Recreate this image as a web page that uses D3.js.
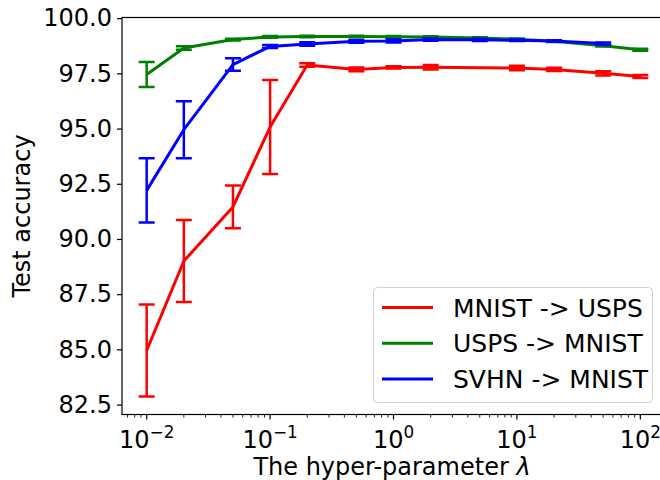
<!DOCTYPE html>
<html><head><meta charset="utf-8">
<script src="https://cdn.jsdelivr.net/npm/d3@7"></script>
<style>body{margin:0;background:#fff}svg{display:block;font-family:"DejaVu Sans",sans-serif}</style>
</head><body>
<svg id="c" width="660" height="480"></svg>
<script>
const seriesNames = ["MNIST -> USPS", "USPS -> MNIST", "SVHN -> MNIST"];
const seriesColors = ["#ff0000", "#008000", "#0000ff"];
const xRed = [0.01, 0.02, 0.05, 0.1, 0.2, 0.5, 1, 2, 10, 20, 50, 100];
const redValues = [84.95, 89.0, 91.45, 95.07, 97.88, 97.68, 97.77, 97.78, 97.74, 97.68, 97.5, 97.36];
const redErr = [2.08, 1.86, 0.97, 2.13, 0.08, 0.08, 0.05, 0.1, 0.1, 0.07, 0.1, 0.07];
const xGreen = [0.01, 0.02, 0.05, 0.1, 0.2, 0.5, 1, 2, 5, 10, 20, 50, 100];
const greenValues = [97.45, 98.65, 99.03, 99.15, 99.17, 99.17, 99.16, 99.15, 99.1, 99.05, 98.95, 98.75, 98.57];
const greenErr = [0.57, 0.08, 0.04, 0.04, 0.03, 0.03, 0.03, 0.03, 0.03, 0.03, 0.03, 0.03, 0.05];
const xBlue = [0.01, 0.02, 0.05, 0.1, 0.2, 0.5, 1, 2, 5, 10, 20, 50];
const blueValues = [92.2, 94.95, 97.9, 98.72, 98.83, 98.95, 98.97, 99.03, 99.02, 99.0, 98.97, 98.85];
const blueErr = [1.46, 1.29, 0.28, 0.07, 0.08, 0.06, 0.07, 0.05, 0.05, 0.03, 0.03, 0.05];
const yTicks = [82.5, 85.0, 87.5, 90.0, 92.5, 95.0, 97.5, 100.0];
const xTickExps = [-2, -1, 0, 1, 2];

const svg = d3.select("#c");
const L = 122, R = 665, T = 17.5, B = 414.5;
const x = d3.scaleLog().domain([Math.pow(10, -2.2), Math.pow(10, 2.2)]).range([L, R]);
const y = d3.scaleLinear().domain([82.05, 100.03]).range([B, T]);
const FS = 24;
const LFS = 25;

const series = [
  {xs: xRed, v: redValues, e: redErr},
  {xs: xGreen, v: greenValues, e: greenErr},
  {xs: xBlue, v: blueValues, e: blueErr}
];

const plot = svg.append("g");
svg.append("clipPath").attr("id", "clp").append("rect")
  .attr("x", L).attr("y", T).attr("width", R - L).attr("height", B - T);
plot.attr("clip-path", "url(#clp)");

const line = d3.line().x(d => x(d[0])).y(d => y(d[1]));
const cap = 8;
series.forEach((s, i) => {
  const col = seriesColors[i];
  const pts = s.xs.map((xv, j) => [xv, s.v[j], s.e[j]]);
  plot.append("path").datum(pts).attr("d", line).attr("fill", "none")
    .attr("stroke", col).attr("stroke-width", 3).attr("stroke-linejoin", "round");
  const g = plot.append("g").attr("stroke", col).attr("stroke-width", 2.5);
  pts.forEach(p => {
    const cx = x(p[0]), y1 = y(p[1] + p[2]), y2 = y(p[1] - p[2]);
    g.append("line").attr("x1", cx).attr("x2", cx).attr("y1", y1).attr("y2", y2);
    g.append("line").attr("x1", cx - cap).attr("x2", cx + cap).attr("y1", y1).attr("y2", y1);
    g.append("line").attr("x1", cx - cap).attr("x2", cx + cap).attr("y1", y2).attr("y2", y2);
  });
});

// axes spines
svg.append("rect").attr("x", L).attr("y", T).attr("width", R - L).attr("height", B - T)
  .attr("fill", "none").attr("stroke", "#000").attr("stroke-width", 1.2);

// y axis
const yAxis = d3.axisLeft(y).tickValues(yTicks).tickFormat(d3.format(".1f")).tickSize(5).tickPadding(5);
const yg = svg.append("g").attr("transform", `translate(${L},0)`).call(yAxis);
yg.select(".domain").remove();
yg.selectAll("text").attr("font-size", FS).attr("font-family", "DejaVu Sans").attr("fill", "#000");
yg.selectAll("line").attr("stroke", "#000").attr("stroke-width", 1.2);

// x axis minor ticks
const minor = [];
for (let e = -3; e <= 2; e++) for (let k = 2; k <= 9; k++) {
  const v = k * Math.pow(10, e);
  if (v >= x.domain()[0] && v <= x.domain()[1]) minor.push(v);
}
const xg = svg.append("g").attr("transform", `translate(0,${B})`);
xg.selectAll("line.minor").data(minor).enter().append("line").attr("class", "minor")
  .attr("x1", d => x(d)).attr("x2", d => x(d)).attr("y1", 0).attr("y2", 3)
  .attr("stroke", "#000").attr("stroke-width", 0.9);
const majors = xTickExps.map(e => Math.pow(10, e));
xg.selectAll("line.major").data(majors).enter().append("line").attr("class", "major")
  .attr("x1", d => x(d)).attr("x2", d => x(d)).attr("y1", 0).attr("y2", 5)
  .attr("stroke", "#000").attr("stroke-width", 1.2);
const lbl = xg.selectAll("text.major").data(xTickExps).enter().append("text")
  .attr("x", d => x(Math.pow(10, d))).attr("y", 33).attr("text-anchor", "middle")
  .attr("font-size", FS).attr("fill", "#000");
lbl.append("tspan").text("10");
lbl.append("tspan").attr("dy", -10).attr("font-size", FS * 0.7).text(d => d < 0 ? "\u2212" + (-d) : String(d));

// axis labels
svg.append("text").attr("x", 392).attr("y", 475).attr("text-anchor", "middle")
  .attr("font-size", FS).attr("fill", "#000")
  .html('The hyper-parameter <tspan font-style="italic">λ</tspan>');
svg.append("text").attr("transform", `translate(30,${(T + B) / 2}) rotate(-90)`)
  .attr("text-anchor", "middle").attr("font-size", FS).attr("fill", "#000").text("Test accuracy");

// legend
const lg = svg.append("g");
lg.append("rect").attr("x", 373.5).attr("y", 287.5).attr("width", 279).attr("height", 115)
  .attr("rx", 4).attr("fill", "#fff").attr("fill-opacity", 0.8).attr("stroke", "#d0d0d0").attr("stroke-width", 1);
seriesNames.forEach((n, i) => {
  const yy = 307.5 + i * 35.8;
  lg.append("line").attr("x1", 382).attr("x2", 433).attr("y1", yy).attr("y2", yy)
    .attr("stroke", seriesColors[i]).attr("stroke-width", 3);
  lg.append("text").attr("x", 453).attr("y", yy + 9).attr("font-size", LFS).attr("fill", "#000").text(n);
});
</script>
</body></html>
